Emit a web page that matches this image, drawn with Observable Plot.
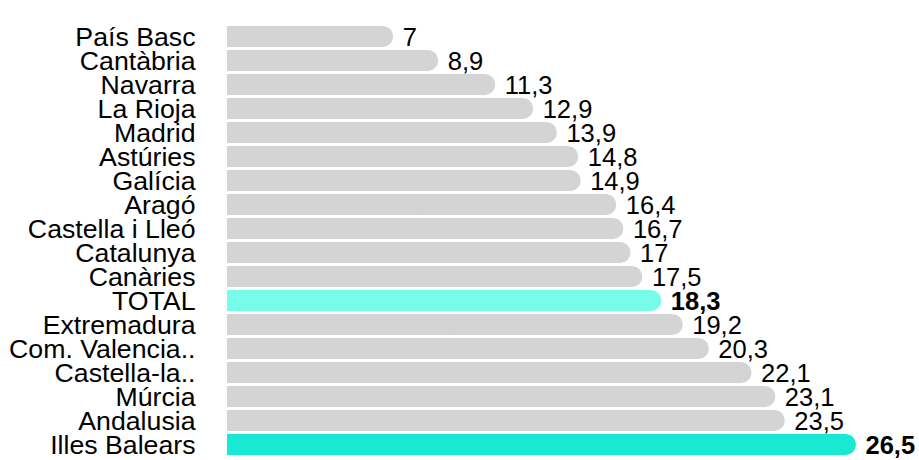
<!DOCTYPE html>
<html>
<head>
<meta charset="utf-8">
<script src="https://cdn.jsdelivr.net/npm/d3@7"></script>
<script src="https://cdn.jsdelivr.net/npm/@observablehq/plot@0.6"></script>
<style>
  html, body { margin: 0; padding: 0; background: #fff; }
</style>
</head>
<body>
<div id="chart"></div>
<script>
const categories = ["País Basc", "Cantàbria", "Navarra", "La Rioja", "Madrid", "Astúries", "Galícia", "Aragó", "Castella i Lleó", "Catalunya", "Canàries", "TOTAL", "Extremadura", "Com. Valencia..", "Castella-la..", "Múrcia", "Andalusia", "Illes Balears"];
const values = [7, 8.9, 11.3, 12.9, 13.9, 14.8, 14.9, 16.4, 16.7, 17, 17.5, 18.3, 19.2, 20.3, 22.1, 23.1, 23.5, 26.5];
const highlight = {"TOTAL": "#76fce9", "Illes Balears": "#17e9d2"};
const boldLabels = ["TOTAL", "Illes Balears"];

const data = categories.map((c, i) => ({
  name: c,
  value: values[i],
  fill: highlight[c] || "#d4d4d4",
  bold: boldLabels.includes(c)
}));

const fmt = v => String(v).replace(".", ",");
const font = "'Liberation Sans', Arial, Helvetica, sans-serif";

const chart = Plot.plot({
  width: 919,
  height: 460,
  marginLeft: 227,
  marginRight: 63,
  marginTop: 21,
  marginBottom: 1,
  style: {fontFamily: font, fontSize: "26.7px", background: "#fff", color: "#000"},
  x: {domain: [0, 26.5], axis: null},
  y: {domain: categories, padding: 0.145, paddingOuter: 0, label: null},
  marks: [
    Plot.axisY({tickSize: 0, tickPadding: 32, fontSize: 26.7, label: null}),
    Plot.barX(data, {y: "name", x1: 0, x2: "value", fill: "fill", rx: 10.5}),
    Plot.barX(data, {y: "name", x1: 0, x2: d => d.value / 2, fill: "fill"}),
    Plot.text(data.filter(d => !d.bold), {y: "name", x: "value", text: d => fmt(d.value), textAnchor: "start", dx: 9, dy: 1, fontSize: 25.5, fill: "#000"}),
    Plot.text(data.filter(d => d.bold), {y: "name", x: "value", text: d => fmt(d.value), textAnchor: "start", dx: 9, dy: 1, fontSize: 25.5, fontWeight: "bold", fill: "#000"})
  ]
});
document.getElementById("chart").appendChild(chart);
</script>
</body>
</html>
